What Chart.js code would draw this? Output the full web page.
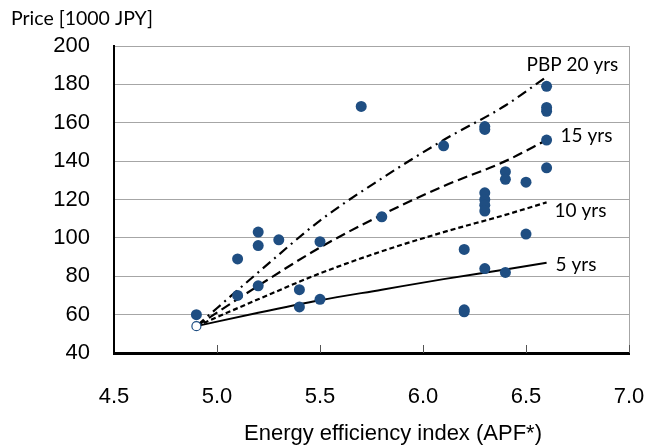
<!DOCTYPE html>
<html>
<head>
<meta charset="utf-8">
<script src="https://cdn.jsdelivr.net/npm/chart.js@4/dist/chart.umd.min.js"></script>
<style>
  body { margin: 0; background: #fff; }
</style>
</head>
<body>
<canvas id="c" width="646" height="448"></canvas>
<script>
// measured models: APF index vs price (1000 JPY)
var apf   = [4.9, 5.1, 5.1, 5.2, 5.2, 5.2, 5.3, 5.4, 5.4, 5.5, 5.5, 5.7, 5.8, 6.1, 6.2, 6.2, 6.2,
             6.3, 6.3, 6.3, 6.3, 6.3, 6.3, 6.3, 6.4, 6.4, 6.4, 6.5, 6.5, 6.6, 6.6, 6.6, 6.6, 6.6];
var price = [60, 89, 70, 103, 96, 75, 99, 73, 64, 98, 68, 168.5, 111, 148, 94, 61.5, 62.5,
             156.5, 158, 123.5, 120, 117, 114, 84, 134.5, 130.5, 82, 129, 102, 179, 166, 168, 151, 136.5];

// reference model (hollow marker)
var baseApf = [4.9];
var basePrice = [54];

// payback period lines
var lineApf = [4.9, 5.2, 5.5, 5.8, 6.1, 6.4, 6.6];
var pbp5  = [54, 61, 67.5, 73, 78.5, 83.5, 87];
var pbp10 = [54, 68, 81.5, 93, 103, 112, 118.5];
var pbp15 = [54, 75, 95, 112, 127, 140, 151];
var pbp20 = [54, 82, 109, 131, 151, 169, 184];
var lineNames = ['5 yrs', '10 yrs', '15 yrs', 'PBP 20 yrs'];

var yTicks = [40, 60, 80, 100, 120, 140, 160, 180, 200];
var xTicks = [4.5, 5.0, 5.5, 6.0, 6.5, 7.0];

function pts(xs, ys) {
  var out = [];
  for (var i = 0; i < xs.length; ++i) out.push({x: xs[i], y: ys[i]});
  return out;
}

var blue = '#1f4e82';

function lineSet(label, ys, dash, width) {
  return {
    label: label,
    data: pts(lineApf, ys),
    showLine: true,
    cubicInterpolationMode: 'monotone',
    borderColor: '#000',
    borderWidth: width,
    borderDash: dash,
    pointRadius: 0,
    fill: false,
    order: 3
  };
}

var extras = {
  id: 'extras',
  afterDraw: function(chart) {
    var ctx = chart.ctx;
    var xs = chart.scales.x, ys = chart.scales.y;
    var a = chart.chartArea;
    ctx.save();
    // right border
    ctx.strokeStyle = '#a6a6a6';
    ctx.lineWidth = 1;
    ctx.beginPath();
    ctx.moveTo(a.right + 0.5, a.top);
    ctx.lineTo(a.right + 0.5, a.bottom);
    ctx.stroke();
    // inner tick marks on x axis
    ctx.strokeStyle = '#555';
    for (var i = 1; i < xTicks.length; ++i) {
      var px = Math.round(xs.getPixelForValue(xTicks[i])) + 0.5;
      ctx.beginPath();
      ctx.moveTo(px, a.bottom);
      ctx.lineTo(px, a.bottom - 8);
      ctx.stroke();
    }
    // line labels
    ctx.fillStyle = '#000';
    ctx.font = '19px Lato';
    ctx.textBaseline = 'middle';
    ctx.textAlign = 'left';
    var ex = xs.getPixelForValue(6.6);
    ctx.fillText(lineNames[3], ex - 20, ys.getPixelForValue(pbp20[6]) - 12);
    ctx.fillText(lineNames[2], ex + 14, ys.getPixelForValue(pbp15[6]) - 4);
    ctx.fillText(lineNames[1], ex + 8, ys.getPixelForValue(pbp10[6]) + 8);
    ctx.fillText(lineNames[0], ex + 9, ys.getPixelForValue(pbp5[6]) + 2);
    // axis titles
    ctx.font = '19.5px Lato';
    ctx.textBaseline = 'alphabetic';
    ctx.fillText('Price [1000 JPY]', 11, 25);
    ctx.font = '22px "Liberation Sans"';
    ctx.textAlign = 'center';
    ctx.textBaseline = 'middle';
    ctx.fillText('Energy efficiency index (APF*)', 393, 434);
    ctx.restore();
  }
};

new Chart(document.getElementById('c'), {
  type: 'scatter',
  data: {
    datasets: [
      {
        label: 'models',
        data: pts(apf, price),
        pointRadius: 5.5,
        pointBackgroundColor: blue,
        pointBorderColor: blue,
        pointBorderWidth: 0,
        order: 1
      },
      {
        label: 'base',
        data: pts(baseApf, basePrice),
        pointRadius: 4.5,
        pointBackgroundColor: '#fff',
        pointBorderColor: blue,
        pointBorderWidth: 1.2,
        order: 2
      },
      lineSet('5 yrs', pbp5, [], 2),
      lineSet('10 yrs', pbp10, [5, 3], 2.2),
      lineSet('15 yrs', pbp15, [10, 5], 2.2),
      lineSet('20 yrs', pbp20, [10, 5, 2, 5], 2.2)
    ]
  },
  options: {
    responsive: false,
    animation: false,
    layout: { padding: { top: 46, right: 17, left: 0, bottom: 0 } },
    plugins: { legend: { display: false }, tooltip: { enabled: false } },
    scales: {
      x: {
        type: 'linear',
        min: 4.5,
        max: 7.0,
        afterFit: function(s) { s.height = 95; s.paddingLeft = 0; s.paddingRight = 0; },
        afterBuildTicks: function(s) { s.ticks = xTicks.map(function(v) { return {value: v}; }); },
        grid: { display: false, drawTicks: false },
        border: { color: '#000', width: 3 },
        ticks: {
          padding: 31,
          color: '#000',
          font: { family: 'Liberation Sans', size: 22 },
          callback: function(v) { return Number(v).toFixed(1); }
        }
      },
      y: {
        min: 40,
        max: 200,
        afterFit: function(s) { s.width = 114; },
        afterBuildTicks: function(s) { s.ticks = yTicks.map(function(v) { return {value: v}; }); },
        grid: { color: '#a6a6a6', lineWidth: 1, drawTicks: false },
        border: { color: '#000', width: 2 },
        ticks: {
          padding: 24,
          color: '#000',
          font: { family: 'Liberation Sans', size: 22 }
        }
      }
    }
  },
  plugins: [extras]
});
</script>
</body>
</html>
